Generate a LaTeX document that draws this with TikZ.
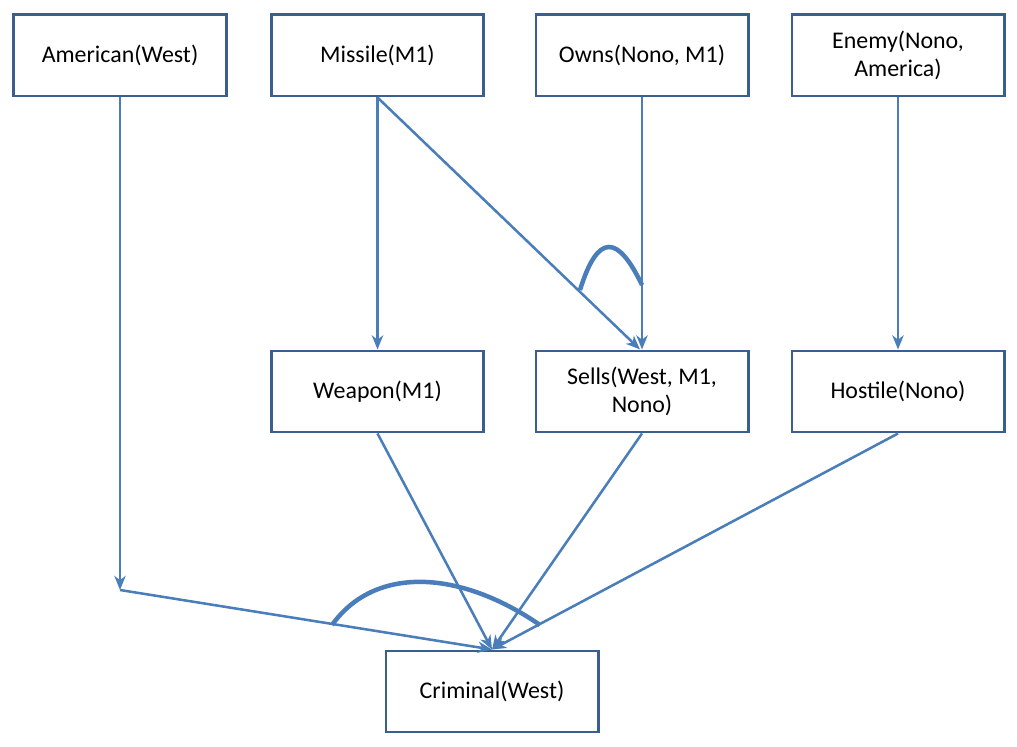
\documentclass[tikz,border=0pt]{standalone}
\usepackage{fontspec}
\setmainfont{Carlito}
\usepackage{tikz}
\usetikzlibrary{positioning, arrows.meta}
\definecolor{boxline}{HTML}{3A5F8E}
\definecolor{link}{HTML}{4A7EBB}

\begin{document}
\begin{tikzpicture}[
  x=0.025cm, y=0.025cm,
  >={Stealth[length=10pt,width=8pt,inset=3pt]},
  fact/.style={draw=boxline, line width=2.1pt, rectangle, minimum width=5.3cm,
    minimum height=2.025cm, inner sep=2pt, align=center,
    font=\fontsize{17}{20}\selectfont},
  link/.style={draw=link, line width=1.8pt},
  andarc/.style={draw=link, line width=3.2pt}
]
  \useasboundingbox (0,0) rectangle (1017,747);

  \node[fact] (am) at (120,691.5) {American(West)};
  \node[fact] (mi) at (377.5,691.5) {Missile(M1)};
  \node[fact] (ow) at (642,691.5) {Owns(Nono, M1)};
  \node[fact] (en) at (898,691.5) {Enemy(Nono,\\America)};
  \node[fact] (we) at (377.5,355.5) {Weapon(M1)};
  \node[fact] (se) at (642,355.5) {Sells(West, M1,\\Nono)};
  \node[fact] (ho) at (898,355.5) {Hostile(Nono)};
  \node[fact] (cr) at (492,55.5) {Criminal(West)};

  \coordinate (corner) at (120,157);

  \draw[link, ->] (am.south) -- (corner);
  \draw[link, ->] (mi.south) -- (we.north);
  \draw[link, ->] (mi.south) -- ([xshift=-0.05cm]se.north);
  \draw[link, ->] (ow.south) -- (se.north);
  \draw[link, ->] (en.south) -- (ho.north);
  \draw[link, ->] (corner) -- (cr.north);
  \draw[link, ->] (we.south) -- (cr.north);
  \draw[link, ->] (se.south) -- (cr.north);
  \draw[link, ->] (ho.south) -- (cr.north);

  % conjunction arcs
  \draw[andarc] (580,457) .. controls (598,515) and (618,512) .. (642,462);
  \draw[andarc] (332,122) .. controls (375,182) and (460,177) .. (540,122);
\end{tikzpicture}
\end{document}
